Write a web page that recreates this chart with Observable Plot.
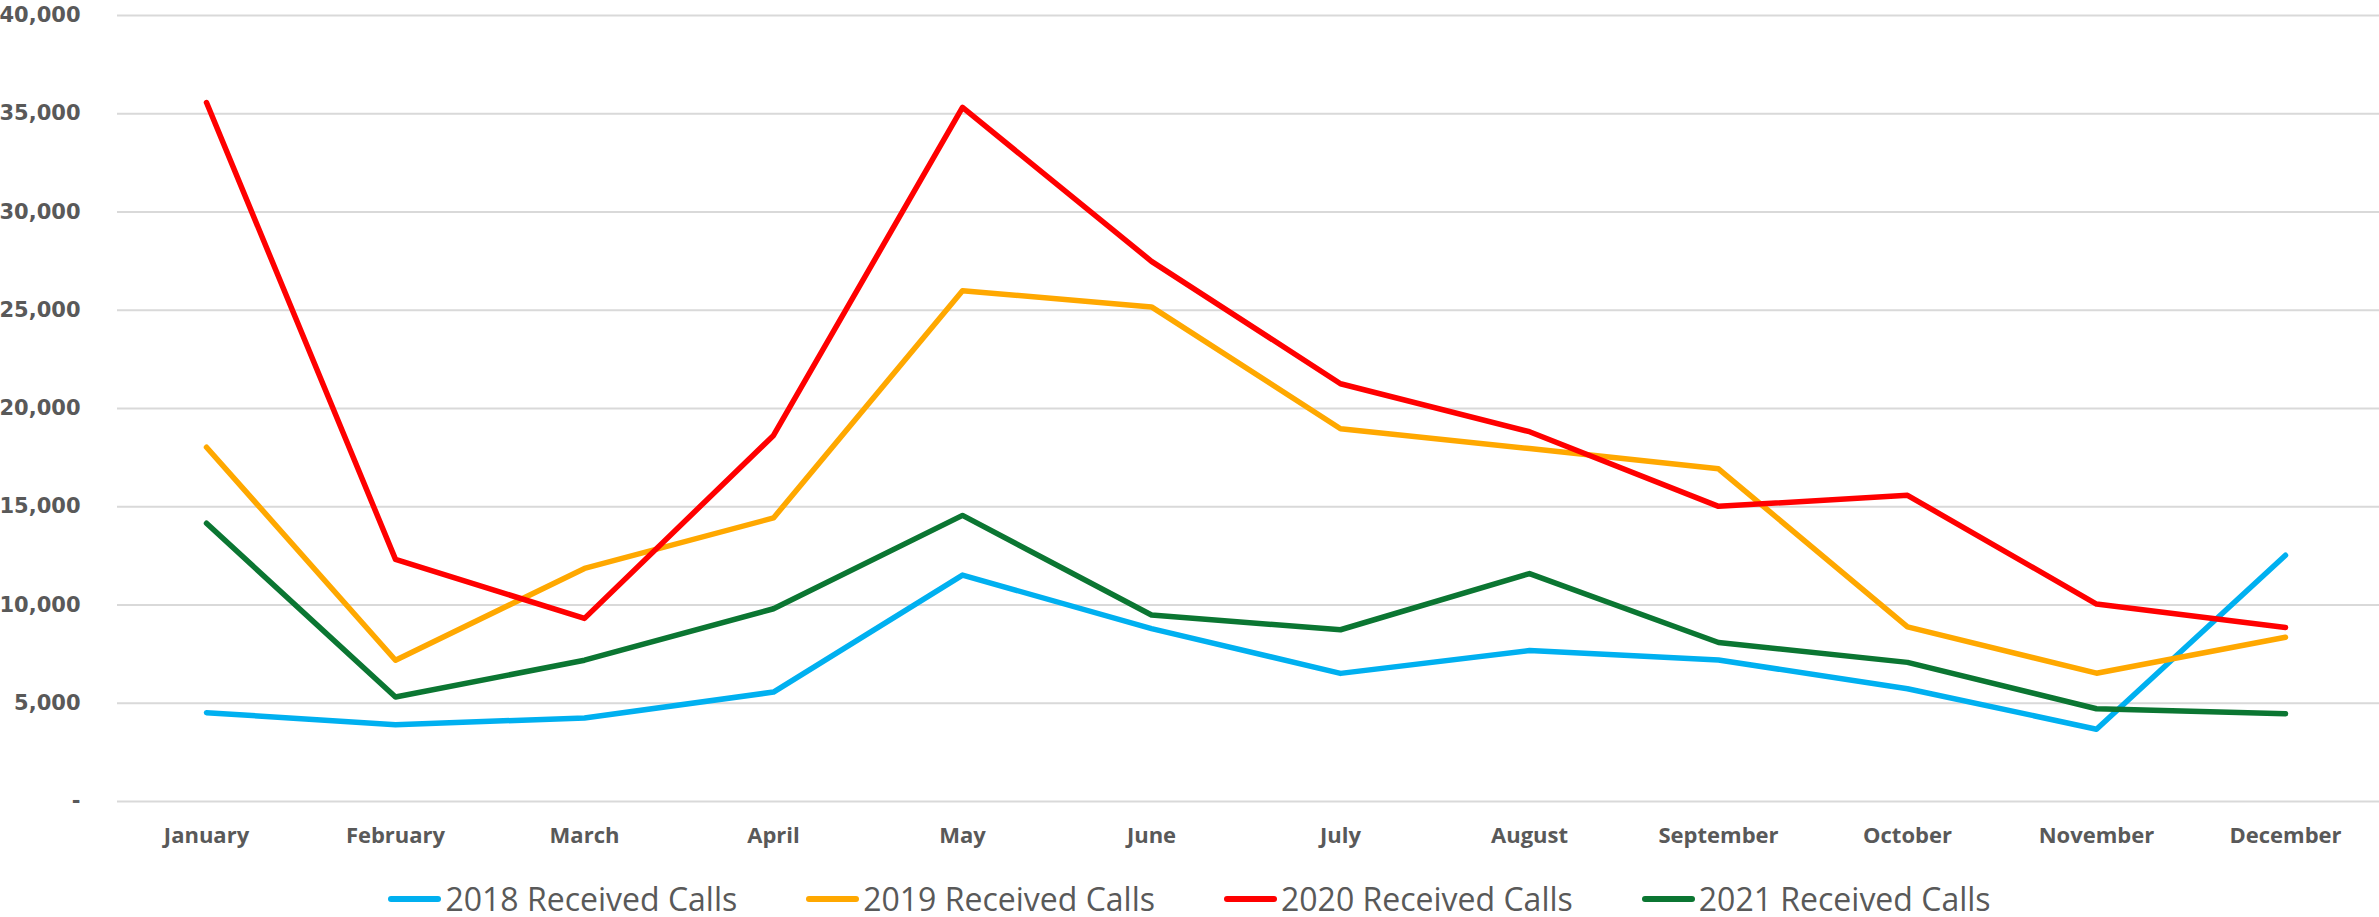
<!DOCTYPE html>
<html>
<head>
<meta charset="utf-8">
<script src="https://cdn.jsdelivr.net/npm/d3@7"></script>
<script src="https://cdn.jsdelivr.net/npm/@observablehq/plot@0.6"></script>
<style>
  html, body { margin: 0; padding: 0; background: #fff; }
  #chart svg { display: block; }
  #legend { display: flex; justify-content: center; align-items: center; gap: 69px; margin-top: 8px;
            font-family: "Open Sans", sans-serif; font-size: 32px; color: #595959; line-height: 42px; }
  .item { display: flex; align-items: center; gap: 4px; }
  .sw { width: 53px; height: 6px; border-radius: 3px; }
</style>
</head>
<body>
<div id="chart"></div>
<div id="legend"></div>
<script>
const months = ["January","February","March","April","May","June","July","August","September","October","November","December"];
const seriesNames = ["2018 Received Calls","2019 Received Calls","2020 Received Calls","2021 Received Calls"];
const seriesColors = ["#00B0F0","#FFA800","#FF0000","#0B7632"];
const calls2018 = [4520, 3910, 4250, 5570, 11520, 8800, 6520, 7680, 7200, 5740, 3680, 12530];
const calls2019 = [18030, 7190, 11860, 14430, 25990, 25170, 18970, 17960, 16930, 8890, 6530, 8360];
const calls2020 = [35570, 12320, 9320, 18630, 35320, 27490, 21260, 18820, 15020, 15580, 10050, 8860];
const calls2021 = [14160, 5320, 7190, 9810, 14560, 9490, 8740, 11600, 8090, 7080, 4720, 4470];
const yTicks = [0, 5000, 10000, 15000, 20000, 25000, 30000, 35000, 40000];

const allSeries = [calls2018, calls2019, calls2020, calls2021];
const rows = [];
allSeries.forEach((vals, i) => vals.forEach((v, j) => rows.push({series: seriesNames[i], month: months[j], value: v})));

const fmt = d3.format(",");
const chart = Plot.plot({
  width: 2379,
  height: 870,
  marginLeft: 117,
  marginRight: 0,
  marginTop: 15,
  marginBottom: 69,
  x: {type: "point", domain: months, range: [206, 2285], padding: 0},
  y: {domain: [0, 40000]},
  color: {domain: seriesNames, range: seriesColors},
  marks: [
    Plot.ruleY(yTicks, {stroke: "#d9d9d9", strokeWidth: 2}),
    Plot.axisY({ticks: yTicks, tickFormat: d => d === 0 ? "-" : fmt(d), tickSize: 0, tickPadding: 37, label: null,
      fontSize: 21, fontWeight: "bold", fontFamily: "DejaVu Sans", fill: "#595959"}),
    Plot.axisX({tickSize: 0, tickPadding: 26, label: null,
      fontSize: 22, fontWeight: "bold", fontFamily: "Open Sans", fill: "#595959"}),
    Plot.line(rows, {x: "month", y: "value", z: "series", stroke: "series", strokeWidth: 5.5,
      strokeLinecap: "round", strokeLinejoin: "round"})
  ]
});
document.getElementById("chart").appendChild(chart);

const legend = document.getElementById("legend");
seriesNames.forEach((name, i) => {
  const item = document.createElement("div");
  item.className = "item";
  const sw = document.createElement("div");
  sw.className = "sw";
  sw.style.background = seriesColors[i];
  const t = document.createElement("span");
  t.textContent = name;
  item.appendChild(sw);
  item.appendChild(t);
  legend.appendChild(item);
});
</script>
</body>
</html>
